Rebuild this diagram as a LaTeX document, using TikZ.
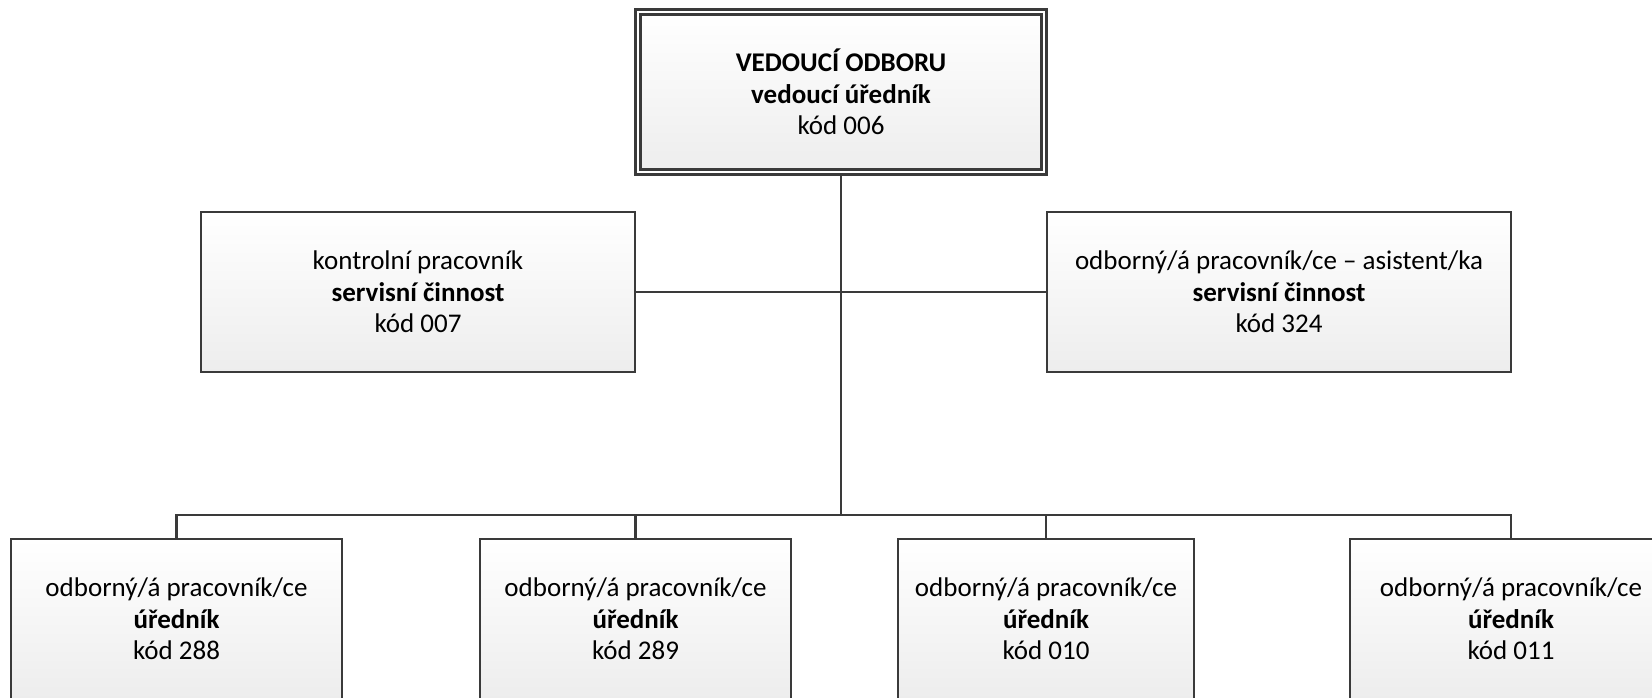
\documentclass[tikz,border=0pt]{standalone}
\usepackage{fontspec}
\setmainfont{Carlito}
\usetikzlibrary{positioning}
\definecolor{ramec}{HTML}{3A3A3A}

\begin{document}
\begin{tikzpicture}[x=0.5pt,y=-0.5pt,
  box/.style={draw=ramec,line width=1.4pt,top color=white,bottom color=black!7,
    align=center,minimum height=80pt,inner sep=0pt,font=\fontsize{13.5}{15.8}\selectfont},
  conn/.style={draw=ramec,line width=1.4pt}]
\useasboundingbox (0,0) rectangle (1652,697);
\clip (0,0) rectangle (1652,697);

\node[box,double=white,double distance=1pt,line width=1.3pt,minimum width=203pt] (vedouci) at (841,92)
  {\textbf{VEDOUCÍ ODBORU}\\\textbf{vedoucí úředník}\\kód 006};

\node[box,minimum width=217pt] (kontrolni) at (418,292)
  {kontrolní pracovník\\\textbf{servisní činnost}\\kód 007};
\node[box,minimum width=232pt] (asistent) at (1279,292)
  {odborný/á pracovník/ce – asistent/ka\\\textbf{servisní činnost}\\kód 324};

\node[box,minimum width=165.5pt] (ref1) at (176.5,619)
  {odborný/á pracovník/ce\\\textbf{úředník}\\kód 288};
\node[box,minimum width=155.5pt] (ref2) at (635.5,619)
  {odborný/á pracovník/ce\\\textbf{úředník}\\kód 289};
\node[box,minimum width=148pt] (ref3) at (1046,619)
  {odborný/á pracovník/ce\\\textbf{úředník}\\kód 010};
\node[box,minimum width=161pt] (ref4) at (1511,619)
  {odborný/á pracovník/ce\\\textbf{úředník}\\kód 011};

\coordinate (spoj) at (841,515);

\draw[conn] (vedouci.south) -- (spoj);
\draw[conn] (kontrolni.east) -- (kontrolni.east -| vedouci.south);
\draw[conn] (asistent.west) -- (asistent.west -| vedouci.south);
\foreach \n in {ref1,ref2,ref3,ref4}
  \draw[conn] (\n.north) |- (spoj);

\end{tikzpicture}
\end{document}
